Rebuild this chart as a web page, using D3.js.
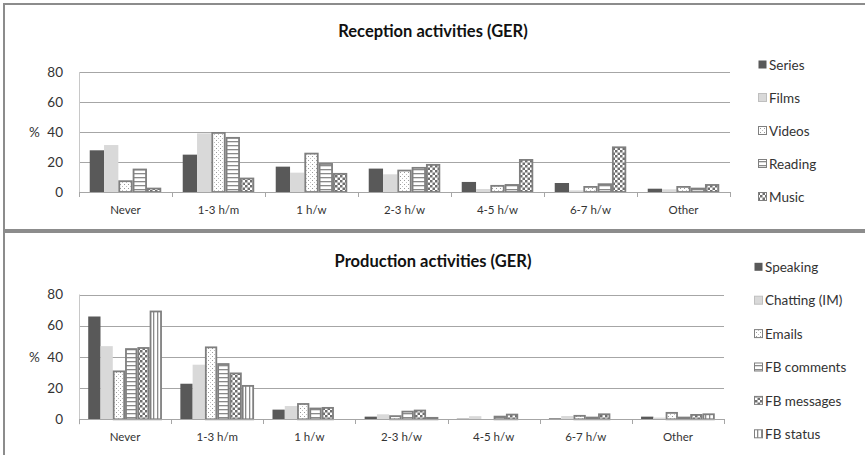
<!DOCTYPE html>
<html><head><meta charset="utf-8">
<script src="https://cdn.jsdelivr.net/npm/d3@7"></script>
<style>body{margin:0;background:#fff;}svg{display:block;font-family:Lato,"Open Sans",sans-serif;}</style>
</head><body><svg id="c" width="865" height="455"></svg>
<script>
const categories = ["Never","1-3 h/m","1 h/w","2-3 h/w","4-5 h/w","6-7 h/w","Other"];
const yTicks = [0,20,40,60,80];

const receptionSeries = ["Series","Films","Videos","Reading","Music"];
const recSeriesVals  = [27.8,24.9,16.9,15.6,6.7,6.0,2.2];
const recFilmsVals   = [31.3,39.1,12.9,11.8,2.0,1.1,1.8];
const recVideosVals  = [7.8,40.0,26.2,14.9,4.7,4.0,4.0];
const recReadingVals = [15.6,36.7,19.3,16.7,5.3,5.8,2.9];
const recMusicVals   = [2.9,9.6,12.7,18.7,22.0,30.4,5.3];

const productionSeries = ["Speaking","Chatting (IM)","Emails","FB comments","FB messages","FB status"];
const prodSpeakingVals = [65.9,22.8,6.2,1.7,0.4,0.6,1.7];
const prodChattingVals = [46.9,35.0,8.5,3.2,2.0,2.1,1.1];
const prodEmailsVals   = [31.3,46.7,10.4,2.6,0.4,2.8,4.7];
const prodFBcommVals   = [45.6,36.0,7.5,5.5,2.3,1.7,1.7];
const prodFBmsgVals    = [46.3,30.0,7.9,6.2,3.6,3.8,3.4];
const prodFBstatusVals = [69.7,22.0,0.3,1.5,0.4,0.4,3.8];

const svg = d3.select("#c");
const defs = svg.append("defs");
// patterns
const pDots = defs.append("pattern").attr("id","dots").attr("patternUnits","userSpaceOnUse").attr("width",4).attr("height",4);
pDots.append("rect").attr("width",4).attr("height",4).attr("fill","#fff");
pDots.append("rect").attr("x",0).attr("y",0).attr("width",1).attr("height",1).attr("fill","#9a9a9a");
pDots.append("rect").attr("x",2).attr("y",2).attr("width",1).attr("height",1).attr("fill","#c0c0c0");
const pH = defs.append("pattern").attr("id","hlines").attr("patternUnits","userSpaceOnUse").attr("width",4).attr("height",4);
pH.append("rect").attr("width",4).attr("height",4).attr("fill","#fff");
pH.append("rect").attr("x",0).attr("y",1).attr("width",4).attr("height",1.3).attr("fill","#8a8a8a");
const pV = defs.append("pattern").attr("id","vlines").attr("patternUnits","userSpaceOnUse").attr("width",4).attr("height",4);
pV.append("rect").attr("width",4).attr("height",4).attr("fill","#fff");
pV.append("rect").attr("x",1).attr("y",0).attr("width",1.3).attr("height",4).attr("fill","#8a8a8a");
const pC = defs.append("pattern").attr("id","checks").attr("patternUnits","userSpaceOnUse").attr("width",5).attr("height",5);
pC.append("rect").attr("width",5).attr("height",5).attr("fill","#fff");
pC.append("rect").attr("x",0).attr("y",0).attr("width",2.5).attr("height",2.5).attr("fill","#6e6e6e");
pC.append("rect").attr("x",2.5).attr("y",2.5).attr("width",2.5).attr("height",2.5).attr("fill","#6e6e6e");

const styles = [
  {fill:"#595959", stroke:"none"},
  {fill:"#d9d9d9", stroke:"none"},
  {fill:"url(#dots)", stroke:"#7f7f7f"},
  {fill:"url(#hlines)", stroke:"#7f7f7f"},
  {fill:"url(#checks)", stroke:"#7f7f7f"},
  {fill:"url(#vlines)", stroke:"#7f7f7f"}
];

// frames
svg.append("rect").attr("x",4).attr("y",4).attr("width",862).attr("height",226).attr("fill","none").attr("stroke","#8c8c8c").attr("stroke-width",2);
svg.append("rect").attr("x",4).attr("y",232).attr("width",862).attr("height",230).attr("fill","none").attr("stroke","#8c8c8c").attr("stroke-width",2);

function panel(cfg){
  const g = svg.append("g");
  const x = d3.scaleBand().domain(categories).range([cfg.x0,cfg.x1]).padding(0);
  const xs = d3.scaleBand().domain(cfg.names).range([0,x.bandwidth()]).paddingInner(0).paddingOuter(0.75);
  const y = d3.scaleLinear().domain([0,80]).range([cfg.yb,cfg.yt]);
  // gridlines
  g.selectAll(".grid").data(yTicks.filter(d=>d>0)).join("line")
    .attr("x1",cfg.x0).attr("x2",cfg.x1).attr("y1",d=>Math.round(y(d))+0.5).attr("y2",d=>Math.round(y(d))+0.5)
    .attr("stroke","#a6a6a6").attr("stroke-width",1);
  // y axis line
  g.append("line").attr("x1",cfg.x0+0.5).attr("x2",cfg.x0+0.5).attr("y1",y(80)).attr("y2",y(0)+5).attr("stroke","#c8c8c8");
  // y tick labels
  g.selectAll(".yl").data(yTicks).join("text")
    .attr("x",cfg.x0-16).attr("y",d=>y(d)).attr("dy","0.35em").attr("text-anchor","end")
    .attr("font-size",13.5).attr("fill","#333").text(d=>d);
  g.append("text").attr("x",29).attr("y",y(40)).attr("dy","0.35em").attr("font-size",13.5).attr("fill","#333").text("%");
  // bars
  cfg.series.forEach((vals,si)=>{
    const st = styles[si];
    const s = st.stroke==="none";
    g.append("g").selectAll("rect").data(vals).join("rect")
      .attr("x",(d,i)=>x(categories[i])+xs(cfg.names[si]) + (s?0:0.9))
      .attr("width",xs.bandwidth() - (s?0:1.8))
      .attr("y",d=>y(d) + (s?0:0.9))
      .attr("height",d=>Math.max(0,y(0)-y(d) - (s?0:0.9)))
      .attr("fill",st.fill).attr("stroke",st.stroke).attr("stroke-width",1.8);
  });
  // baseline axis
  g.append("line").attr("x1",cfg.x0).attr("x2",cfg.x1).attr("y1",Math.round(y(0))+0.5).attr("y2",Math.round(y(0))+0.5).attr("stroke","#a6a6a6");
  const bounds = categories.map(c=>x(c)).concat([cfg.x1]);
  g.selectAll(".tk").data(bounds).join("line")
    .attr("x1",d=>Math.round(d)+0.5).attr("x2",d=>Math.round(d)+0.5).attr("y1",Math.round(y(0))).attr("y2",Math.round(y(0))+5)
    .attr("stroke","#a6a6a6");
  // category labels
  g.selectAll(".cl").data(categories).join("text")
    .attr("x",d=>x(d)+x.bandwidth()/2).attr("y",cfg.labelY).attr("dy","0.35em").attr("text-anchor","middle")
    .attr("font-size",11.5).attr("fill","#333").text(d=>d);
  // title
  g.append("text").attr("x",433).attr("y",cfg.titleY).attr("dy","0.35em").attr("text-anchor","middle")
    .attr("font-size",16.5).attr("font-weight","bold").attr("fill","#111").text(cfg.title);
  // legend
  cfg.names.forEach((n,i)=>{
    const ly = cfg.legY + i*cfg.legStep;
    const st = styles[i];
    g.append("rect").attr("x",cfg.legX+0.5).attr("y",ly-4.5).attr("width",8).attr("height",8)
      .attr("fill",st.fill).attr("stroke",st.stroke==="none"?(i===1?"#bfbfbf":"none"):"#7f7f7f").attr("stroke-width",1);
    g.append("text").attr("x",cfg.legX+11).attr("y",ly).attr("dy","0.35em").attr("font-size",13.5).attr("fill","#333").text(n);
  });
}

panel({x0:79,x1:730,yb:192,yt:72,names:receptionSeries,
  series:[recSeriesVals,recFilmsVals,recVideosVals,recReadingVals,recMusicVals],
  labelY:210,titleY:31,title:"Reception activities (GER)",legX:758,legY:65,legStep:33});
panel({x0:79,x1:724,yb:419.3,yt:294.5,names:productionSeries,
  series:[prodSpeakingVals,prodChattingVals,prodEmailsVals,prodFBcommVals,prodFBmsgVals,prodFBstatusVals],
  labelY:437,titleY:261,title:"Production activities (GER)",legX:754,legY:267.3,legStep:33.4});
</script></body></html>
